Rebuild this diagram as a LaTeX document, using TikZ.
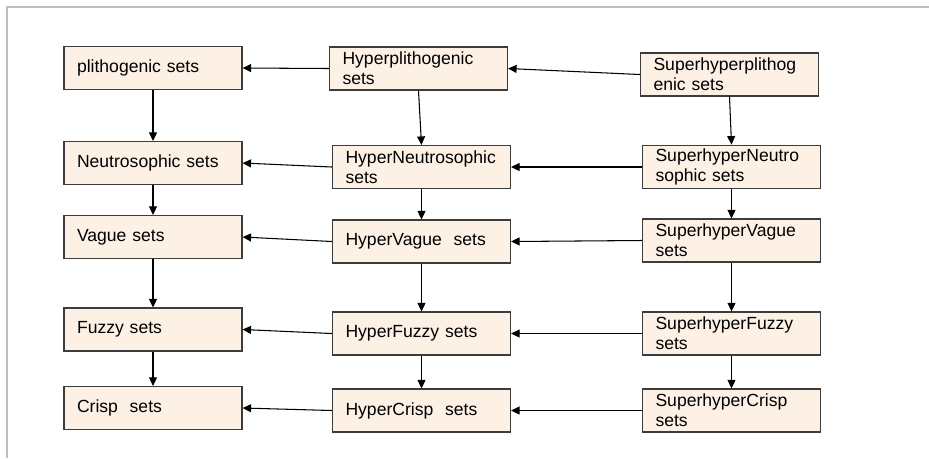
\documentclass[tikz,border=0pt]{standalone}
\usepackage{fontspec}
\setmainfont{Liberation Sans}
\usetikzlibrary{arrows.meta}
\definecolor{setfill}{RGB}{253,240,228}
\definecolor{setline}{RGB}{60,60,60}
\definecolor{framegray}{RGB}{190,190,190}
\tikzset{
	setbox/.style={draw=setline, line width=0.7pt, fill=setfill, rectangle,
		text width=3.04cm, inner xsep=0.26cm, inner ysep=2pt,
		minimum height=0.86cm, align=left,
		font=\fontsize{10}{11.5}\selectfont},
	link/.style={-{Triangle[length=1.7mm,width=1.6mm]}, line width=0.6pt, draw=black}
}

\begin{document}
\begin{tikzpicture}[x=0.02cm, y=-0.02cm]
			%%%%% START %%%%%
			
			\useasboundingbox (0, 0) rectangle (929, 458);
			\draw[line width=0.8pt, color=framegray] (929, 7) -- (7, 7) -- (7, 458);
			
			% ordinary sets
			\node[setbox] (pli) at (153, 68) {plithogenic sets};
			\node[setbox] (neu) at (153, 163) {Neutrosophic sets};
			\node[setbox] (vag) at (153, 237) {Vague sets};
			\node[setbox] (fuz) at (153, 329.5) {Fuzzy sets};
			\node[setbox] (cri) at (153, 408) {Crisp~ sets};
			
			% hyper sets
			\node[setbox] (hpli) at (418.5, 68.5) {Hyperplithogenic\\sets};
			\node[setbox] (hneu) at (421.5, 167) {HyperNeutrosophic\\sets};
			\node[setbox] (hvag) at (421.5, 241.5) {HyperVague~ sets};
			\node[setbox] (hfuz) at (421.5, 333.5) {HyperFuzzy sets};
			\node[setbox] (hcri) at (421.5, 410.5) {HyperCrisp~ sets};
			
			% superhyper sets
			\node[setbox] (spli) at (729.5, 74.5) {Superhyperplithog\\enic sets};
			\node[setbox] (sneu) at (731.5, 167) {SuperhyperNeutro\\sophic sets};
			\node[setbox] (svag) at (731.5, 240.5) {SuperhyperVague\\sets};
			\node[setbox] (sfuz) at (731.5, 333.5) {SuperhyperFuzzy\\sets};
			\node[setbox] (scri) at (731.5, 410.5) {SuperhyperCrisp\\sets};
			
			% right to left
			\draw[link] (hpli.west) -- (pli.east);
			\draw[link] (hneu.west) -- (neu.east);
			\draw[link] (hvag.west) -- (vag.east);
			\draw[link] (hfuz.west) -- (fuz.east);
			\draw[link] (hcri.west) -- (cri.east);
			
			\draw[link] (spli.west) -- (hpli.east);
			\draw[link] (sneu.west) -- (hneu.east);
			\draw[link] (svag.west) -- (hvag.east);
			\draw[link] (sfuz.west) -- (hfuz.east);
			\draw[link] (scri.west) -- (hcri.east);
			
			% top to bottom
			\draw[link] (pli.south) -- (neu.north);
			\draw[link] (neu.south) -- (vag.north);
			\draw[link] (vag.south) -- (fuz.north);
			\draw[link] (fuz.south) -- (cri.north);
			
			\draw[link] (hpli.south) -- (hneu.north);
			\draw[link] (hneu.south) -- (hvag.north);
			\draw[link] (hvag.south) -- (hfuz.north);
			\draw[link] (hfuz.south) -- (hcri.north);
			
			\draw[link] (spli.south) -- (sneu.north);
			\draw[link] (sneu.south) -- (svag.north);
			\draw[link] (svag.south) -- (sfuz.north);
			\draw[link] (sfuz.south) -- (scri.north);
			
			%%%%% END %%%%%
\end{tikzpicture}
\end{document}
